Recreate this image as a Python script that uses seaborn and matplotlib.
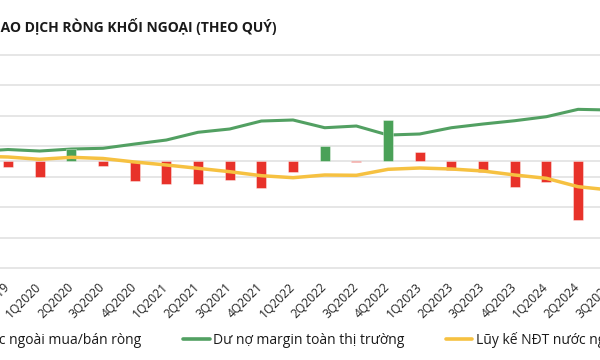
import numpy as np
import pandas as pd
import matplotlib
matplotlib.use("Agg")
import matplotlib.pyplot as plt
from matplotlib.lines import Line2D
from matplotlib.patches import Patch
import seaborn as sns

# quarterly data (trillion VND)
quarters = ["3Q2019", "4Q2019", "1Q2020", "2Q2020", "3Q2020", "4Q2020",
            "1Q2021", "2Q2021", "3Q2021", "4Q2021", "1Q2022", "2Q2022",
            "3Q2022", "4Q2022", "1Q2023", "2Q2023", "3Q2023", "4Q2023",
            "1Q2024", "2Q2024", "3Q2024"]
net_flow = [-2.0, -3.6, -9.6, 7.2, -3.3, -12.0, -13.8, -14.1, -11.4, -16.2,
            -6.9, 9.0, -0.6, 24.6, 5.1, -5.4, -6.6, -15.6, -12.9, -35.4, -13.8]
margin_debt = [191.4, 194.7, 192.2, 195.5, 196.7, 203.7, 210.3, 223.0, 228.4,
               241.5, 243.2, 230.5, 233.3, 218.5, 220.2, 230.5, 236.6, 242.0,
               248.6, 260.7, 259.6]
cumulative = [-5.0, -8.4, -18.1, -9.7, -14.7, -29.4, -42.0, -55.9, -70.1,
              -86.9, -95.3, -84.0, -85.3, -60.1, -54.6, -58.8, -67.2, -84.0,
              -97.9, -133.1, -147.0]
green_quarters = ["2Q2020", "2Q2022", "4Q2022"]

RED = "#e8322a"
GREEN_BAR = "#4aa158"
GREEN_LINE = "#52a062"
YELLOW = "#f6c141"
GRID = "#e2e2e2"

df = pd.DataFrame({"quarter": quarters, "net": net_flow,
                   "margin": margin_debt, "cum": cumulative})
df["pos"] = np.arange(len(df))
palette = {q: (GREEN_BAR if q in green_quarters else RED) for q in quarters}

sns.set_style("white")
plt.rcParams["font.family"] = ["Open Sans", "DejaVu Sans"]

fig = plt.figure(figsize=(6, 3.6), dpi=100)
# the reference is a crop: the axes run past both edges of the picture
# (from -40px to 640px) so the outer quarters still get their ticks
step = 31.67  # px per quarter
ax_m = fig.add_axes([-40 / 600, 92 / 360, 680 / 600, 213 / 360])
ax_b = ax_m.twinx()
ax_c = ax_m.twinx()

# margin axis carries the grid
ax_m.set_ylim(0, 350)
ax_m.set_yticks(np.arange(0, 351, 50))
ax_m.grid(axis="y", color=GRID, lw=1.2)
ax_m.set_axisbelow(True)
sns.lineplot(data=df, x="pos", y="margin", ax=ax_m, color=GREEN_LINE, lw=2.2,
             solid_joinstyle="round")

# net buy/sell bars
ax_b.axhline(0, color=GRID, lw=1.2, zorder=0)
sns.barplot(data=df, x="quarter", y="net", hue="quarter", palette=palette,
            legend=False, width=0.32, ax=ax_b, edgecolor=(1, 1, 1, 0.45),
            linewidth=0.6, saturation=1)
ax_b.set_ylim(-64.2, 63.6)

# cumulative foreign flow
sns.lineplot(data=df, x="pos", y="cum", ax=ax_c, color=YELLOW, lw=2.5,
             solid_joinstyle="round")
ax_c.set_ylim(-474.6, 420)

for a in (ax_m, ax_b, ax_c):
    for s in a.spines.values():
        s.set_visible(False)
    a.set_xlabel("")
    a.set_ylabel("")
ax_b.yaxis.set_visible(False)
ax_c.yaxis.set_visible(False)
ax_m.tick_params(axis="y", left=False, labelleft=False)

ax_m.set_xticks(df["pos"])
ax_m.tick_params(axis="x", length=0, pad=12, labelsize=8.7, colors="#222222")
ax_m.set_xticklabels(quarters)
ax_m.set_xlim(1 + (-40 - 8) / step, 1 + (640 - 8) / step)
plt.setp(ax_m.get_xticklabels(), rotation=45, ha="right", va="center",
         rotation_mode="anchor")
for gl in ax_m.get_ygridlines():
    gl.set_clip_on(False)

fig.text(277 / 600, 1 - 32 / 360, "GIAO DỊCH RÒNG KHỐI NGOẠI (THEO QUÝ)",
         ha="right", va="baseline", fontsize=10, fontweight="bold",
         color="#1a1a1a")

handles = [Patch(color=RED),
           Line2D([], [], color=GREEN_LINE, lw=2.6),
           Line2D([], [], color=YELLOW, lw=2.6)]
labels = ["NĐT nước ngoài mua/bán ròng", "Dư nợ margin toàn thị trường",
          "Lũy kế NĐT nước ngoài mua/bán ròng"]
leg = fig.legend(handles, labels, ncol=3, loc="center left",
                 bbox_to_anchor=(0, 1 - 340 / 360), frameon=False,
                 fontsize=10, handlelength=1.9, handletextpad=0.25,
                 columnspacing=3.0, labelcolor="#1a1a1a")
# slide the legend so the margin entry sits where it does in the source
fig.canvas.draw()
bb = leg.get_texts()[1].get_window_extent(fig.canvas.get_renderer())
leg.set_bbox_to_anchor(((213 - bb.x0) / 600, 1 - 340 / 360),
                       transform=fig.transFigure)

fig.savefig("out.png", dpi=100)
